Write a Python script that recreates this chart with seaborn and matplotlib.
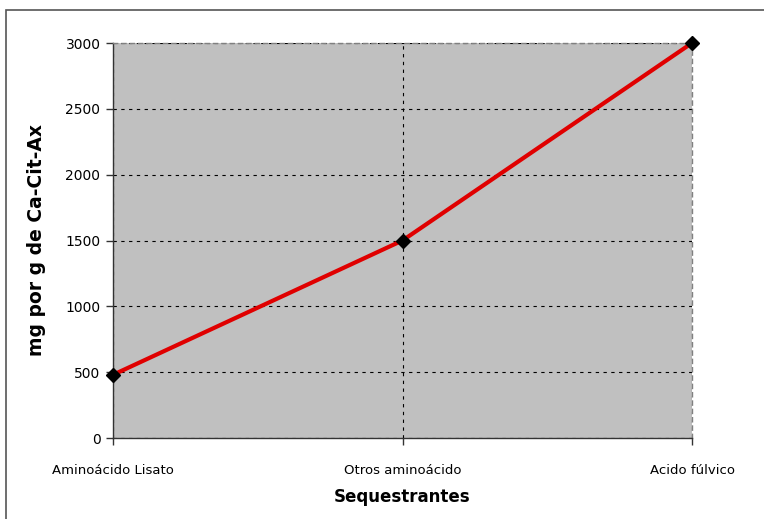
import matplotlib
matplotlib.use("Agg")
import matplotlib.pyplot as plt
import seaborn as sns
import pandas as pd
from matplotlib.patches import Rectangle

categories = ["Aminoácido Lisato", "Otros aminoácido", "Acido fúlvico"]
values = [480, 1500, 3000]
y_ticks = [0, 500, 1000, 1500, 2000, 2500, 3000]

df = pd.DataFrame({"Sequestrantes": categories, "valor": values})

sns.set_theme(style="white")
plt.rcParams["font.family"] = ["DejaVu Sans"]
plt.rcParams["text.color"] = "black"
plt.rcParams["axes.labelcolor"] = "black"
plt.rcParams["xtick.color"] = "black"
plt.rcParams["ytick.color"] = "black"

fig = plt.figure(figsize=(7.64, 5.19), dpi=100)
ax = fig.add_axes([113 / 764, 1 - 438 / 519, (692 - 113) / 764, (438 - 43) / 519])
ax.set_facecolor("#c0c0c0")

sns.lineplot(data=df, x="Sequestrantes", y="valor", ax=ax, color="#e00000",
             linewidth=3, sort=False, zorder=3)
ax.plot(range(len(categories)), values, linestyle="none", marker="D",
        markersize=7, color="black", zorder=4, clip_on=False)

ax.set_xlim(0, len(categories) - 1)
ax.set_ylim(0, 3000)
ax.set_yticks(y_ticks)
ax.set_yticklabels([str(v) for v in y_ticks], fontsize=10)
ax.set_xticks(range(len(categories)))
ax.set_xticklabels(categories, fontsize=9.5)

ax.grid(True, axis="both", color="black", linestyle=(0, (3, 4)), linewidth=0.8)
ax.set_axisbelow(True)

for side in ["top", "right"]:
    ax.spines[side].set_color("#808080")
    ax.spines[side].set_linestyle((0, (3, 3)))
    ax.spines[side].set_linewidth(1)
for side in ["left", "bottom"]:
    ax.spines[side].set_color("#333333")
    ax.spines[side].set_linewidth(1)

ax.tick_params(axis="y", direction="out", length=5, width=1, color="#333333", left=True, pad=4)
ax.tick_params(axis="x", direction="out", length=5, width=1, color="#333333", bottom=True, pad=14)

ax.set_xlabel("Sequestrantes", fontsize=12, fontweight="bold", labelpad=8, color="black")
ax.set_ylabel("mg por g de Ca-Cit-Ax", fontsize=13.5, fontweight="bold", labelpad=14, color="black")

fig.patches.append(Rectangle((6 / 764, -0.01), 1.0, 1 - 10 / 519 + 0.01,
                             transform=fig.transFigure, fill=False,
                             edgecolor="#555555", linewidth=1.2))

fig.savefig("out.png", dpi=100)
